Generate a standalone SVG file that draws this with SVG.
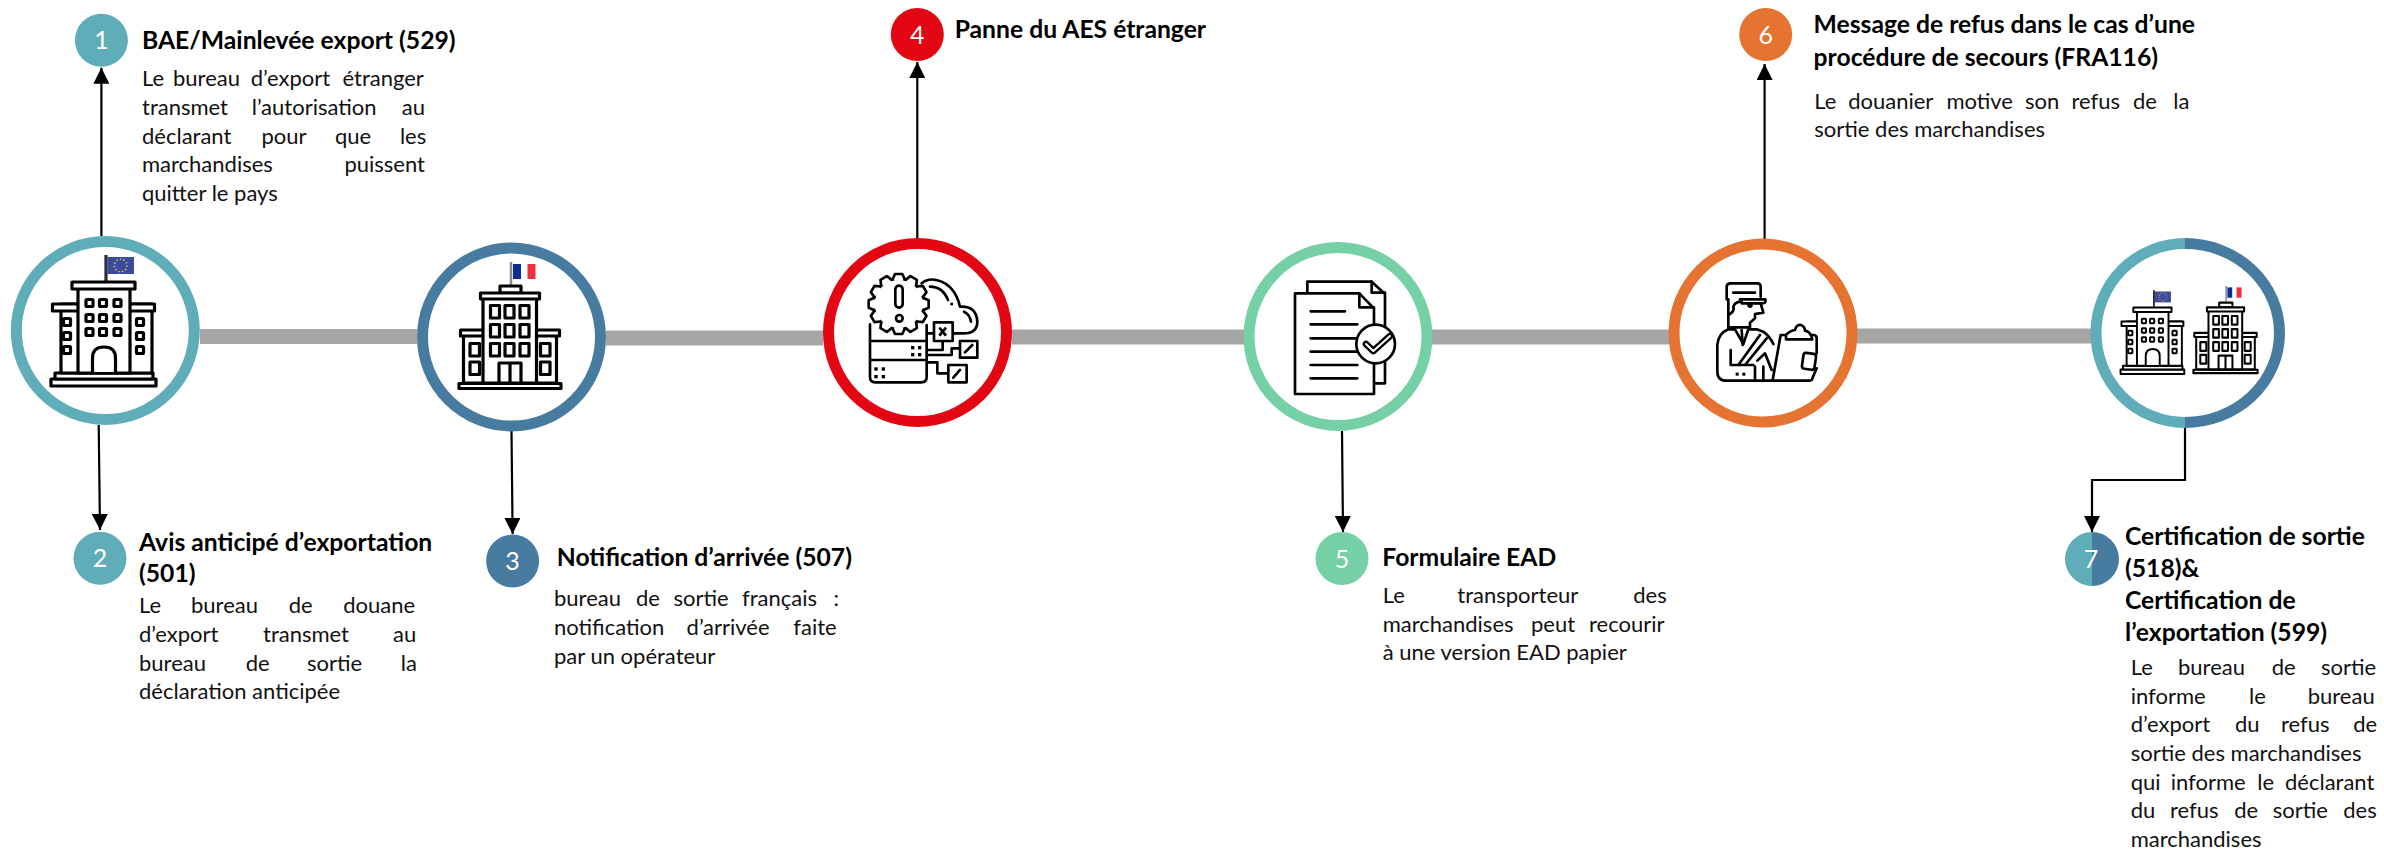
<svg xmlns="http://www.w3.org/2000/svg" xmlns:xlink="http://www.w3.org/1999/xlink" width="2384" height="849" viewBox="0 0 2384 849">
<style>
text{font-family:"Lato","Liberation Sans",sans-serif;fill:#000}
.t{font-size:24.700px;font-weight:700}
.b{font-size:22px;fill:#111}
.n{font-size:25px;fill:#fff;text-anchor:middle}
.spine{stroke:#a6a6a6;stroke-width:15;fill:none}
.ar{stroke:#000;stroke-width:2.2;fill:none;marker-end:url(#ah)}
.ring{fill:#fff;stroke-width:11}
.ic{fill:none;stroke:#000;stroke-width:3.2;stroke-linejoin:round;stroke-linecap:round}
.icw{fill:#fff;stroke:#000;stroke-width:3.2;stroke-linejoin:round}
.z{fill:none;stroke:#000;stroke-width:8;stroke-linejoin:round;stroke-linecap:round}
.zw{fill:#fff;stroke:#000;stroke-width:8;stroke-linejoin:round;stroke-linecap:round}
.zf{fill:#000}
</style>
<defs>
<marker id="ah" markerUnits="userSpaceOnUse" markerWidth="16" markerHeight="16" refX="16" refY="8" orient="auto"><path d="M0,0L16,8L0,16Z" fill="#000"/></marker>
<g id="tooth"><rect x="-14" y="-80" width="28" height="10" fill="#fff"/><path class="zw" d="M-18,-74L-11,-90H11L18,-74" /></g>
<g id="bEU">
<path d="M106,255V281" stroke="#2b2b33" stroke-width="3.2"/>
<rect x="107.500" y="257" width="26.500" height="17" fill="#3c4a9e"/>
<circle cx="120.700" cy="265.500" r="6.300" fill="none" stroke="#d8c23c" stroke-width="1.500" stroke-dasharray="1.500 2"/>
<rect class="icw" x="51" y="379" width="105" height="7"/>
<rect class="icw" x="55" y="373" width="98" height="6"/>
<rect class="icw" x="61" y="304" width="91" height="69"/>
<rect class="icw" x="52.500" y="304" width="102" height="7"/>
<rect class="icw" x="78" y="288" width="52" height="85"/>
<rect class="icw" x="72" y="282" width="63" height="7"/>
<path class="icw" d="M92.500,372V358Q92.500,347 104,347Q115.500,347 115.500,358V372"/>
<g class="ic"><rect x="86" y="299.500" width="7" height="7" rx="1"/><rect x="99.500" y="299.500" width="7" height="7" rx="1"/><rect x="114" y="299.500" width="7" height="7" rx="1"/><rect x="86" y="314.500" width="7" height="7" rx="1"/><rect x="99.500" y="314.500" width="7" height="7" rx="1"/><rect x="114" y="314.500" width="7" height="7" rx="1"/><rect x="86" y="328.500" width="7" height="7" rx="1"/><rect x="99.500" y="328.500" width="7" height="7" rx="1"/><rect x="114" y="328.500" width="7" height="7" rx="1"/><rect x="63.500" y="318.500" width="7" height="7" rx="1"/><rect x="63.500" y="332.500" width="7" height="7" rx="1"/><rect x="63.500" y="346.500" width="7" height="7" rx="1"/><rect x="136.500" y="318.500" width="7" height="7" rx="1"/><rect x="136.500" y="332.500" width="7" height="7" rx="1"/><rect x="136.500" y="346.500" width="7" height="7" rx="1"/></g>
</g>
<g id="bFR">
<path d="M511,262V285" stroke="#8a8a8a" stroke-width="2.500"/>
<rect x="513" y="264" width="8" height="15" fill="#0b2c94"/><rect x="521" y="264" width="6" height="15" fill="#fff"/><rect x="527.500" y="264" width="8" height="15" fill="#ee2f3d"/>
<rect class="icw" x="459" y="383.500" width="102" height="5"/>
<rect class="icw" x="463.500" y="335" width="93" height="48"/>
<rect class="icw" x="460.500" y="330" width="99" height="6"/>
<rect class="icw" x="483" y="298" width="53.500" height="85"/>
<rect class="icw" x="500" y="286" width="21" height="7"/>
<rect class="icw" x="480.500" y="293" width="59" height="6"/>
<g class="ic"><rect x="490.500" y="305.500" width="9" height="12.500"/><rect x="505" y="305.500" width="9" height="12.500"/><rect x="520" y="305.500" width="9" height="12.500"/><rect x="490.500" y="324.500" width="9" height="12.500"/><rect x="505" y="324.500" width="9" height="12.500"/><rect x="520" y="324.500" width="9" height="12.500"/><rect x="490.500" y="343.500" width="9" height="12.500"/><rect x="505" y="343.500" width="9" height="12.500"/><rect x="520" y="343.500" width="9" height="12.500"/><rect x="470" y="343.500" width="9.500" height="12.500"/><rect x="470" y="362" width="9.500" height="12.500"/><rect x="540.500" y="343.500" width="9.500" height="12.500"/><rect x="540.500" y="362" width="9.500" height="12.500"/><path d="M499,383V363H521V383M510,363V383"/></g>
</g>
</defs>

<g id="connectors">
<path class="spine" d="M200,336.500H417"/>
<path class="spine" d="M606,338H823"/>
<path class="spine" d="M1012,337H1244"/>
<path class="spine" d="M1432,337H1669"/>
<path class="spine" d="M1857,336H2091"/>
<path class="ar" d="M101.400,236V67.700"/>
<path class="ar" d="M98.700,425L100,530"/>
<path class="ar" d="M511.500,431L512.600,534"/>
<path class="ar" d="M917.300,238V62"/>
<path class="ar" d="M1342,431L1343,532"/>
<path class="ar" d="M1764.600,239V64"/>
<path class="ar" d="M2185,428V480H2092V532"/>
</g>

<g id="node-hub-1">
<circle class="ring" cx="105.300" cy="330.500" r="89" stroke="#5fadb8"/>
<use href="#bEU"/>
</g>
<g id="node-hub-2">
<circle class="ring" cx="511.500" cy="337" r="89" stroke="#477ba0"/>
<use href="#bFR"/>
</g>
<g id="node-hub-3">
<circle class="ring" cx="917.500" cy="332.500" r="89" stroke="#e30613"/>
<g transform="translate(860,265) scale(.3333)">
<path class="z" d="M185,55Q205,38 232,46Q285,60 300,125Q350,122 352,170Q352,205 310,205H280"/>
<path class="z" d="M210,65Q248,65 264,105M312,140Q330,150 333,170"/>
<rect class="zf" x="271" y="113" width="8" height="8"/>
<path class="z" d="M30,178V336Q30,352 46,352H184Q200,352 200,336V180M30,228H200M30,285H200"/>
<g class="zf"><rect x="153" y="243" width="10" height="10"/><rect x="174" y="243" width="10" height="10"/><rect x="153" y="264" width="10" height="10"/><rect x="174" y="264" width="10" height="10"/><rect x="43" y="307" width="10" height="10"/><rect x="65" y="307" width="10" height="10"/><rect x="43" y="330" width="10" height="10"/><rect x="65" y="330" width="10" height="10"/></g>
<path class="z" d="M205,205H222M248,228V255H205M300,250H275V270H205M205,292H232V325H265"/>
<rect class="zw" x="222" y="172" width="56" height="56"/>
<path d="M238,188L258,212M258,188L238,212" stroke="#000" stroke-width="8" fill="none"/>
<rect class="zw" x="300" y="228" width="52" height="50"/>
<path class="z" d="M315,262L337,240"/>
<rect class="zw" x="265" y="300" width="55" height="52"/>
<path class="z" d="M280,338L300,315"/>
<circle cx="116" cy="117" r="76" class="zw"/>
<g transform="translate(116,117)"><use href="#tooth"/><use href="#tooth" transform="rotate(30)"/><use href="#tooth" transform="rotate(60)"/><use href="#tooth" transform="rotate(90)"/><use href="#tooth" transform="rotate(120)"/><use href="#tooth" transform="rotate(150)"/><use href="#tooth" transform="rotate(180)"/><use href="#tooth" transform="rotate(210)"/><use href="#tooth" transform="rotate(240)"/><use href="#tooth" transform="rotate(270)"/><use href="#tooth" transform="rotate(300)"/><use href="#tooth" transform="rotate(330)"/></g>
<rect class="z" x="106" y="62" width="22" height="66" rx="11"/>
<circle class="z" cx="118" cy="160" r="10"/>
</g>
</g>
<g id="node-hub-4">
<circle class="ring" cx="1338" cy="336.500" r="89" stroke="#75d0a5"/>
<g transform="translate(1280,270) scale(.3333)">
<path class="zw" d="M82,68V35H275L315,72V340H282"/>
<path class="z" d="M275,35V68H315"/>
<path class="zw" d="M45,70H238L282,115V372H45Z"/>
<path class="z" d="M238,70V112H282"/>
<path class="z" d="M92,124H195M92,163H232M92,205H232M92,245H232M92,285H232M92,325H232"/>
<circle class="zw" cx="287" cy="222" r="58"/>
<path d="M258,222L280,243L330,198" fill="none" stroke="#000" stroke-width="20" stroke-linejoin="round" stroke-linecap="round"/>
<path d="M258,222L280,243L330,198" fill="none" stroke="#fff" stroke-width="6" stroke-linejoin="round" stroke-linecap="round"/>
</g>
</g>
<g id="node-hub-5">
<circle class="ring" cx="1763" cy="333" r="89" stroke="#e57331"/>
<g transform="translate(1700,270) scale(.3333)">
<path class="z" d="M80,88V50Q80,40 92,40H172Q182,40 182,50V80"/>
<path class="z" d="M100,68H165"/>
<path class="z" d="M120,88H172L196,88Q200,100 186,100H125"/>
<path class="z" d="M85,135Q105,125 100,110Q105,95 125,95M85,88V172H150V158L165,145L165,132L190,128L182,100"/>
<circle class="zf" cx="150" cy="106" r="8"/>
<path class="z" d="M52,225V305Q52,332 80,332H330M52,225Q55,190 85,178H105L130,222L145,178H170L190,185Q210,200 220,222"/>
<path class="z" d="M92,240V285H160M115,285L180,195M135,285L200,205M125,180L128,225M165,290V330M190,290V330M172,272L195,250L215,300"/>
<rect class="zf" x="107" y="308" width="9" height="9"/><rect class="zf" x="127" y="308" width="9" height="9"/>
<path class="z" d="M242,195L218,330M242,195H340Q350,195 350,205V250M350,295L335,330"/>
<path class="zw" d="M258,208V195Q270,182 285,180Q290,162 303,165Q315,170 315,182Q332,185 337,208Z"/>
<rect class="z" x="308" y="250" width="38" height="48" rx="8" transform="rotate(8 327 274)"/>
</g>
</g>
<g id="node-hub-6">
<path d="M2185,243.500A89,89.500 0 0 0 2185,422.500Z" fill="#fff"/>
<path d="M2185,243.500A94.500,89.500 0 0 1 2185,422.500Z" fill="#fff"/>
<path d="M2185,243.500A89,89.500 0 0 0 2185,422.500" fill="none" stroke="#5fadb8" stroke-width="11"/>
<path d="M2185,243.500A94.500,89.500 0 0 1 2185,422.500" fill="none" stroke="#477ba0" stroke-width="11"/>
<use href="#bEU" transform="translate(2089.600,127) scale(.607,.64)"/>
<use href="#bFR" transform="translate(1904.200,105.500) scale(.63,.689)"/>
</g>

<g id="node-1">
<circle cx="101.400" cy="40.300" r="26.500" fill="#5fadb8"/><text class="n" x="101.400" y="49">1</text>
<text class="t" x="142" y="49.300">BAE/Mainlevée export (529)</text>
<text class="b" y="86"><tspan x="142">Le</tspan> <tspan x="173">bureau</tspan> <tspan x="250.700">d’export</tspan> <tspan x="342.500">étranger</tspan></text>
<text class="b" y="115"><tspan x="142">transmet</tspan> <tspan x="251.800">l’autorisation</tspan> <tspan x="401.800">au</tspan></text>
<text class="b" y="143.700"><tspan x="142">déclarant</tspan> <tspan x="261.400">pour</tspan> <tspan x="334.900">que</tspan> <tspan x="399.900">les</tspan></text>
<text class="b" y="172"><tspan x="142">marchandises</tspan> <tspan x="344.400">puissent</tspan></text>
<text class="b" x="142" y="201">quitter le pays</text>
</g>
<g id="node-2">
<circle cx="100" cy="558.300" r="26.500" fill="#5fadb8"/><text class="n" x="100" y="567">2</text>
<text class="t" x="139" y="550.700">Avis anticipé d’exportation</text>
<text class="t" x="139" y="582">(501)</text>
<text class="b" y="612.700"><tspan x="139">Le</tspan> <tspan x="191">bureau</tspan> <tspan x="288.800">de</tspan> <tspan x="343.300">douane</tspan></text>
<text class="b" y="642"><tspan x="139">d’export</tspan> <tspan x="263">transmet</tspan> <tspan x="393">au</tspan></text>
<text class="b" y="670.700"><tspan x="139">bureau</tspan> <tspan x="245.700">de</tspan> <tspan x="307">sortie</tspan> <tspan x="400.700">la</tspan></text>
<text class="b" x="139" y="699">déclaration anticipée</text>
</g>
<g id="node-3">
<circle cx="512.600" cy="561" r="26.500" fill="#477ba0"/><text class="n" x="512.600" y="570">3</text>
<text class="t" x="556.800" y="565.700">Notification d’arrivée (507)</text>
<text class="b" y="606"><tspan x="554">bureau</tspan> <tspan x="636">de</tspan> <tspan x="673.400">sortie</tspan> <tspan x="742">français</tspan> <tspan x="833.500">:</tspan></text>
<text class="b" y="635"><tspan x="554">notification</tspan> <tspan x="686.600">d’arrivée</tspan> <tspan x="793.300">faite</tspan></text>
<text class="b" x="554" y="664">par un opérateur</text>
</g>
<g id="node-4">
<circle cx="917.300" cy="34.500" r="26.500" fill="#e30613"/><text class="n" x="917.300" y="43.500">4</text>
<text class="t" x="954.700" y="38.300">Panne du AES étranger</text>
</g>
<g id="node-5">
<circle cx="1342" cy="558.500" r="26.500" fill="#75d0a5"/><text class="n" x="1342" y="567.500">5</text>
<text class="t" x="1382.300" y="566">Formulaire EAD</text>
<text class="b" y="603.300"><tspan x="1382.700">Le</tspan> <tspan x="1457.300">transporteur</tspan> <tspan x="1633.300">des</tspan></text>
<text class="b" y="631.500"><tspan x="1382.700">marchandises</tspan> <tspan x="1531">peut</tspan> <tspan x="1589">recourir</tspan></text>
<text class="b" x="1382.700" y="660">à une version EAD papier</text>
</g>
<g id="node-6">
<circle cx="1765.700" cy="34.500" r="26.500" fill="#e57331"/><text class="n" x="1765.700" y="43.500">6</text>
<text class="t" x="1813.600" y="33">Message de refus dans le cas d’une</text>
<text class="t" x="1813.600" y="66">procédure de secours (FRA116)</text>
<text class="b" y="108.700"><tspan x="1814.300">Le</tspan> <tspan x="1848.200">douanier</tspan> <tspan x="1946.400">motive</tspan> <tspan x="2025">son</tspan> <tspan x="2071.400">refus</tspan> <tspan x="2132.900">de</tspan> <tspan x="2173.200">la</tspan></text>
<text class="b" x="1814.300" y="137.300">sortie des marchandises</text>
</g>
<g id="node-7">
<path d="M2092,532A27,27 0 0 0 2092,586Z" fill="#5fadb8"/><path d="M2092,532A27,27 0 0 1 2092,586Z" fill="#477ba0"/><text class="n" x="2091" y="568">7</text>
<text class="t" x="2125" y="545">Certification de sortie</text>
<text class="t" x="2125" y="576.700">(518)&amp;</text>
<text class="t" x="2125" y="609">Certification de</text>
<text class="t" x="2125" y="640.700">l’exportation (599)</text>
<text class="b" y="675"><tspan x="2130.700">Le</tspan> <tspan x="2178">bureau</tspan> <tspan x="2271.700">de</tspan> <tspan x="2321">sortie</tspan></text>
<text class="b" y="703.700"><tspan x="2130.700">informe</tspan> <tspan x="2249">le</tspan> <tspan x="2307.700">bureau</tspan></text>
<text class="b" y="732.300"><tspan x="2130.700">d’export</tspan> <tspan x="2235">du</tspan> <tspan x="2281">refus</tspan> <tspan x="2353.300">de</tspan></text>
<text class="b" x="2130.700" y="761">sortie des marchandises</text>
<text class="b" y="789.700"><tspan x="2130.700">qui</tspan> <tspan x="2170.700">informe</tspan> <tspan x="2257.300">le</tspan> <tspan x="2285">déclarant</tspan></text>
<text class="b" y="818.300"><tspan x="2130.700">du</tspan> <tspan x="2170">refus</tspan> <tspan x="2234.300">de</tspan> <tspan x="2272.700">sortie</tspan> <tspan x="2343.300">des</tspan></text>
<text class="b" x="2130.700" y="846.700">marchandises</text>
</g>
</svg>
